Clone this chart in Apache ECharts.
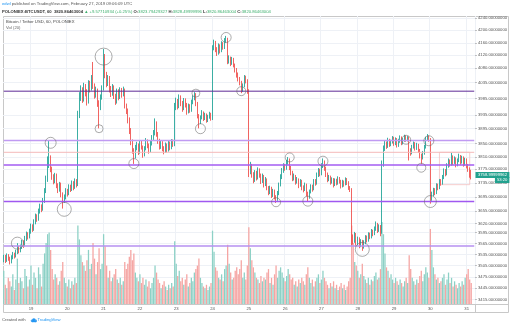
<!DOCTYPE html>
<html>
<head>
<meta charset="utf-8">
<script src="https://cdn.jsdelivr.net/npm/echarts@6/dist/echarts.min.js"></script>
<style>
html, body { margin: 0; padding: 0; background: #ffffff; }
#chart { width: 512px; height: 327px; }
</style>
</head>
<body>
<div id="chart"></div>
<script>
// Hourly BTC/USDT candles (POLONIEX, 60 min), first bar = 18th 06:00
const dayLabels = ['19','20','21','22','23','24','25','26','27','28','29','30','31'];
const firstHour = 6;
const slotCount = 312;

const opens = [
3522,3528,3520,3531,3524,3515,3527,3535,3530,3541,
3552,3545,3556,3568,3561,3579,3590,3584,3598,3612,
3605,3624,3640,3633,3655,3668,3661,3684,3712,3745,
3790,3806,3775,3752,3740,3756,3728,3715,3731,3702,
3685,3694,3712,3705,3724,3718,3735,3722,3740,3731,
3935,3990,4012,3985,4021,4006,3978,4030,4018,4045,
4026,3998,4010,3972,3958,3990,4018,4115,4060,4032,
4048,4015,4002,4020,3995,3976,4008,3990,4012,3998,
4011,3962,3948,3921,3890,3856,3830,3812,3838,3846,
3825,3852,3840,3817,3835,3858,3844,3829,3850,3868,
3880,3912,3878,3858,3840,3852,3836,3828,3846,3831,
3850,3838,3856,3848,3960,3978,3962,3990,3972,3955,
3980,3968,3945,3962,3950,3975,3988,3998,3970,3932,
3915,3928,3942,3925,3936,3920,3930,3938,3926,4145,
4162,4140,4128,4150,4135,4158,4146,4168,4172,4100,
4112,4095,4108,4090,4075,4060,4048,4035,4012,4025,
4050,4041,4010,3770,3785,3760,3742,3765,3750,3772,
3758,3740,3755,3730,3745,3722,3708,3720,3700,3712,
3695,3688,3705,3730,3752,3770,3785,3778,3795,3802,
3780,3765,3748,3755,3738,3745,3728,3740,3722,3716,
3730,3705,3694,3710,3725,3718,3740,3735,3758,3770,
3762,3785,3796,3778,3760,3745,3752,3738,3745,3730,
3742,3735,3748,3740,3726,3738,3732,3745,3736,3722,
3716,3585,3572,3590,3566,3578,3560,3571,3556,3568,
3582,3575,3590,3584,3598,3592,3605,3618,3602,3612,
3598,3790,3835,3850,3842,3860,3848,3855,3866,3850,
3862,3845,3858,3868,3852,3860,3870,3862,3868,3830,
3822,3840,3850,3836,3846,3830,3815,3808,3822,3840,
3865,3870,3862,3690,3702,3715,3708,3728,3722,3740,
3735,3752,3770,3762,3785,3798,3790,3810,3795,3805,
3788,3800,3812,3796,3808,3790,3802,3785,3775,3768
];
const closes = [
3528,3520,3531,3524,3515,3527,3535,3530,3541,3552,
3545,3556,3568,3561,3579,3590,3584,3598,3612,3605,
3624,3640,3633,3655,3668,3661,3684,3712,3745,3790,
3806,3775,3752,3740,3756,3728,3715,3731,3702,3685,
3694,3712,3705,3724,3718,3735,3722,3740,3731,3935,
3990,4012,3985,4021,4006,3978,4030,4018,4045,4026,
3998,4010,3972,3958,3990,4018,4115,4060,4032,4048,
4015,4002,4020,3995,3976,4008,3990,4012,3998,4011,
3962,3948,3921,3890,3856,3830,3812,3838,3846,3825,
3852,3840,3817,3835,3858,3844,3829,3850,3868,3880,
3912,3878,3858,3840,3852,3836,3828,3846,3831,3850,
3838,3856,3848,3960,3978,3962,3990,3972,3955,3980,
3968,3945,3962,3950,3975,3988,3998,3970,3932,3915,
3928,3942,3925,3936,3920,3930,3938,3926,4145,4162,
4140,4128,4150,4135,4158,4146,4168,4172,4100,4112,
4095,4108,4090,4075,4060,4048,4035,4012,4025,4050,
4041,4010,3770,3785,3760,3742,3765,3750,3772,3758,
3740,3755,3730,3745,3722,3708,3720,3700,3712,3695,
3688,3705,3730,3752,3770,3785,3778,3795,3802,3780,
3765,3748,3755,3738,3745,3728,3740,3722,3716,3730,
3705,3694,3710,3725,3718,3740,3735,3758,3770,3762,
3785,3796,3778,3760,3745,3752,3738,3745,3730,3742,
3735,3748,3740,3726,3738,3732,3745,3736,3722,3716,
3585,3572,3590,3566,3578,3560,3571,3556,3568,3582,
3575,3590,3584,3598,3592,3605,3618,3602,3612,3598,
3790,3835,3850,3842,3860,3848,3855,3866,3850,3862,
3845,3858,3868,3852,3860,3870,3862,3868,3830,3822,
3840,3850,3836,3846,3830,3815,3808,3822,3840,3865,
3870,3862,3690,3702,3715,3708,3728,3722,3740,3735,
3752,3770,3762,3785,3798,3790,3810,3795,3805,3788,
3800,3812,3796,3808,3790,3802,3785,3775,3768,3759
];
const lows = [
3514,3512,3515,3518,3508,3511,3522,3524,3527,3536,
3538,3541,3550,3553,3557,3572,3576,3579,3592,3597,
3600,3618,3625,3628,3648,3652,3656,3678,3706,3738,
3778,3766,3744,3731,3734,3720,3706,3710,3694,3662,
3678,3688,3696,3700,3709,3712,3714,3718,3722,3726,
3926,3978,3972,3976,3992,3964,3970,4004,4010,4015,
3985,3988,3960,3895,3950,3982,4010,4048,4020,4024,
4004,3990,3994,3984,3966,3970,3980,3984,3988,3992,
3955,3938,3910,3878,3845,3820,3790,3806,3830,3816,
3820,3832,3808,3812,3830,3836,3820,3824,3844,3860,
3874,3870,3849,3832,3834,3827,3818,3822,3823,3826,
3830,3833,3840,3842,3950,3952,3956,3962,3945,3950,
3958,3936,3940,3942,3945,3968,3980,3962,3925,3895,
3908,3922,3917,3920,3912,3914,3924,3918,3920,4136,
4130,4118,4122,4126,4130,4138,4140,4160,4092,4094,
4086,4090,4082,4066,4050,4038,4026,4002,4006,4020,
4032,4000,3752,3760,3750,3734,3738,3742,3745,3750,
3732,3735,3722,3726,3714,3700,3703,3692,3695,3688,
3678,3684,3700,3725,3746,3764,3770,3773,3788,3772,
3757,3740,3742,3730,3733,3720,3724,3714,3708,3712,
3697,3682,3690,3705,3710,3714,3727,3730,3752,3754,
3757,3778,3770,3752,3737,3740,3730,3733,3722,3726,
3728,3730,3733,3719,3722,3724,3728,3729,3715,3709,
3560,3562,3567,3557,3560,3552,3555,3545,3551,3563,
3568,3570,3577,3579,3585,3588,3600,3594,3597,3585,
3592,3782,3828,3834,3837,3840,3842,3850,3843,3845,
3838,3840,3852,3845,3847,3855,3855,3856,3800,3814,
3818,3835,3829,3831,3822,3806,3790,3803,3817,3835,
3858,3855,3676,3684,3697,3700,3703,3714,3717,3727,
3730,3746,3754,3757,3779,3782,3785,3787,3790,3780,
3783,3795,3788,3791,3782,3785,3777,3767,3750,3745
];
const highs = [
3535,3534,3538,3536,3529,3533,3542,3540,3548,3566,
3558,3562,3575,3574,3586,3598,3596,3606,3620,3618,
3632,3648,3646,3662,3676,3674,3692,3720,3756,3812,
3858,3815,3782,3760,3764,3762,3734,3738,3736,3708,
3702,3720,3718,3731,3730,3742,3740,3748,3746,3948,
4005,4026,4020,4034,4030,4014,4042,4040,4058,4099,
4032,4022,4016,3980,3998,4026,4140,4124,4068,4058,
4055,4024,4030,4026,4000,4016,4014,4020,4018,4022,
4016,3970,3955,3928,3896,3862,3836,3846,3855,3850,
3860,3858,3844,3842,3866,3862,3850,3858,3875,3890,
3925,3916,3884,3864,3860,3857,3842,3853,3850,3858,
3856,3863,3862,3972,3988,3984,3998,3995,3978,3987,
3986,3972,3970,3968,3982,3995,4005,4002,3975,3938,
3934,3950,3946,3942,3940,3936,3945,3942,4152,4170,
4166,4146,4158,4155,4165,4162,4175,4182,4176,4120,
4116,4115,4112,4094,4080,4066,4052,4040,4032,4058,
4056,4045,4014,3796,3790,3766,3772,3770,3780,3777,
3762,3762,3758,3752,3748,3726,3727,3724,3718,3716,
3700,3712,3736,3760,3778,3792,3790,3802,3810,3806,
3784,3770,3762,3758,3752,3748,3746,3744,3728,3736,
3733,3710,3716,3731,3730,3746,3746,3765,3778,3776,
3792,3806,3800,3782,3765,3758,3756,3751,3749,3748,
3747,3754,3752,3744,3744,3742,3751,3749,3740,3726,
3720,3590,3597,3594,3584,3582,3577,3575,3574,3588,
3587,3596,3595,3605,3603,3612,3626,3622,3618,3616,
3800,3844,3858,3856,3867,3864,3861,3872,3870,3868,
3866,3864,3874,3871,3866,3876,3874,3872,3871,3836,
3846,3856,3854,3852,3849,3834,3820,3828,3846,3870,
3878,3874,3866,3710,3721,3720,3734,3733,3746,3746,
3758,3777,3775,3792,3806,3803,3822,3815,3812,3809,
3806,3820,3816,3814,3812,3808,3806,3790,3780,3773
];
const volumes = [
38,22,18,30,26,20,34,16,28,52,
24,30,26,18,40,32,20,28,44,22,
36,30,18,42,34,20,46,58,70,80,
82,62,40,28,34,30,22,26,38,48,
30,24,20,28,18,26,22,30,24,90,
74,56,48,44,38,50,62,40,46,70,
52,34,48,64,40,46,80,66,44,30,
38,26,30,34,40,28,24,30,22,26,
48,40,46,54,62,50,58,36,30,26,
34,24,30,22,28,20,26,18,24,30,
44,36,28,24,18,22,26,20,16,22,
18,24,20,72,46,32,38,26,30,22,
28,34,20,24,30,26,36,40,44,52,
30,24,20,18,22,16,20,24,84,60,
42,38,30,28,34,26,40,44,68,46,
36,28,30,38,42,34,40,50,30,36,
28,44,88,64,50,42,36,30,28,24,
32,26,30,28,36,40,24,30,22,34,
44,30,38,42,36,30,26,32,40,34,
28,30,22,26,20,28,24,30,26,22,
34,42,30,24,28,20,26,30,34,24,
28,38,30,26,22,18,24,20,26,18,
22,16,20,24,18,22,16,20,26,30,
90,70,48,44,38,30,34,46,32,28,
24,30,22,28,26,32,36,28,30,40,
94,80,58,42,38,30,34,28,24,30,
26,22,28,24,20,26,30,24,56,40,
30,26,22,28,24,32,38,26,34,42,
36,30,86,62,42,34,28,30,24,26,
30,34,22,28,36,24,30,20,26,22,
18,24,20,26,22,30,34,40,28,24
];

// Price scale labels
const priceTicks = [4240,4200,4160,4120,4080,4035,3985,3935,3895,3850,3810,3775,3735,3695,3655,3620,3595,3565,3535,3505,3475,3445,3415];

// Horizontal support / resistance levels drawn on the chart
const levelPrices = [4008, 3859, 3824, 3787, 3682, 3558];
const levelStyles = [
  { color: '#5e2a96', width: 1 },
  { color: '#c09af2', width: 1.5 },
  { color: '#f4b9b9', width: 1 },
  { color: '#a35cf2', width: 1.5 },
  { color: '#a058f0', width: 1.5 },
  { color: '#b690f0', width: 1.5 }
];

// Circled turning points: [bar index, price, diameter]
const circleMarks = [
  [9,3566,12],[31,3852,11],[40,3660,14],[66,4116,17],[63,3894,8],[86,3791,10],
  [127,4002,8],[130,3894,10],[147,4177,10],[157,4008,9],[180,3680,9],[189,3809,9],
  [201,3683,10],[211,3798,10],[237,3549,14],[266,3861,9],[281,3858,10],[276,3779,9],[282,3682,12]
];

// Outlined consolidation box: [start bar, end bar, low price, high price]
const boxZone = [288, 308, 3730, 3824];

const lastPriceText = '3758.99999962';
const countdownText = '53:20';

const FONT = 'Liberation Sans, Arial, sans-serif';
const FS = 4.2;
const UP = '#26a69a', DOWN = '#ef5350';
const UP_VOL = '#8dd1c6', DOWN_VOL = '#f5a5a3';

const categories = [];
for (let k = 0; k < slotCount; k++) {
  const t = firstHour + k;
  categories.push(t % 24 === 0 ? dayLabels[t / 24 - 1] : '');
}

const candleData = opens.map((o, i) => [o, closes[i], lows[i], highs[i]]);
const volumeData = volumes.map((v, i) => ({
  value: v,
  itemStyle: { color: closes[i] >= opens[i] ? UP_VOL : DOWN_VOL }
}));
const showDay = (idx, val) => val !== '';

// One flat line series per level, spanning the whole time range
const levelSeries = levelPrices.map((p, i) => ({
  name: 'level' + i,
  type: 'line',
  data: [[0, p], [slotCount - 1, p]],
  symbol: 'none',
  silent: true,
  z: 3,
  lineStyle: { color: levelStyles[i].color, width: levelStyles[i].width, type: 'solid' },
  itemStyle: { color: levelStyles[i].color }
}));

const priceTag = {
  yAxis: closes[closes.length - 1],
  lineStyle: { color: 'rgba(0,0,0,0)', width: 0 },
  label: {
    show: true,
    position: 'end',
    distance: 0.5,
    offset: [0, 3],
    formatter: '{a|' + lastPriceText + '}\n{b|' + countdownText + '}',
    rich: {
      a: { backgroundColor: '#22a18e', color: '#ffffff', fontSize: FS, fontFamily: FONT, padding: [1, 2.4, 1, 2.4], lineHeight: 5 },
      b: { backgroundColor: '#22a18e', color: '#ffffff', fontSize: FS, fontFamily: FONT, padding: [1, 2, 1, 2], lineHeight: 5, align: 'right' }
    }
  }
};

const chart = echarts.init(document.getElementById('chart'), null, { renderer: 'canvas' });

const plain = (text, left, top, color) => ({
  text, left, top, padding: 0,
  textStyle: { fontSize: FS, fontWeight: 'normal', color: color || '#555', fontFamily: FONT }
});

chart.setOption({
  animation: false,
  backgroundColor: '#ffffff',
  textStyle: { fontFamily: FONT },
  title: [
    {
      left: 2, top: 1.8, padding: 0,
      text: '{u|edwl}{t| published on TradingView.com, February 27, 2019 09:06:09 UTC}',
      textStyle: {
        fontSize: FS, fontWeight: 'normal', fontFamily: FONT,
        rich: {
          u: { color: '#2196f3', fontSize: FS, fontFamily: FONT, lineHeight: 5 },
          t: { color: '#555', fontSize: FS, fontFamily: FONT, lineHeight: 5 }
        }
      }
    },
    {
      left: 2, top: 9.6, padding: 0,
      text: '{k|POLONIEX:BTCUSDT, 60  3820.86463004} {g|\u25B2 +9.57710934 (+0.25%)} {k|O:}{g|3823.79429327} {k|H:}{g|3828.49999996} {k|L:}{g|3820.86463004} {k|C:}{g|3820.86463004}',
      textStyle: {
        fontSize: FS, fontWeight: 'normal', fontFamily: FONT,
        rich: {
          k: { color: '#333', fontSize: FS, fontWeight: 'bold', fontFamily: FONT, lineHeight: 5 },
          g: { color: '#3bae6c', fontSize: FS, fontFamily: FONT, lineHeight: 5 }
        }
      }
    },
    plain('Bitcoin / Tether USD, 60, POLONIEX', 6, 20, '#444'),
    plain('Vol (20)', 6, 26, '#666'),
    plain('Created with', 2, 318, '#555'),
    plain('TradingView', 37.5, 318, '#2196f3')
  ],
  grid: { left: 3, right: 37, top: 16, bottom: 23, containLabel: false },
  xAxis: {
    type: 'category',
    data: categories,
    boundaryGap: true,
    axisLine: { show: false },
    axisTick: { show: false },
    axisLabel: { interval: showDay, fontSize: FS, color: '#555', margin: 3, fontFamily: FONT },
    splitLine: { show: true, interval: showDay, lineStyle: { color: '#eef1f6', width: 1 } }
  },
  yAxis: [
    {
      type: 'log',
      logBase: 10,
      min: 3403,
      max: 4246.5,
      position: 'right',
      axisLine: { show: false },
      axisTick: { show: true, length: 2, customValues: priceTicks, lineStyle: { color: '#9a9a9a', width: 0.6 } },
      axisLabel: {
        customValues: priceTicks,
        fontSize: FS, color: '#555', margin: 3, fontFamily: FONT,
        formatter: v => Math.round(v).toFixed(8)
      },
      splitLine: { show: true, lineStyle: { color: '#eef1f6', width: 1 } }
    },
    { type: 'value', min: 0, max: 330, show: false }
  ],
  series: [
    {
      name: 'Vol',
      type: 'bar',
      xAxisIndex: 0,
      yAxisIndex: 1,
      data: volumeData,
      barCategoryGap: '15%',
      z: 1,
      silent: true
    },
    {
      name: 'BTCUSDT',
      type: 'candlestick',
      data: candleData,
      barWidth: 1.1,
      z: 2,
      silent: true,
      itemStyle: { color: UP, color0: DOWN, borderColor: UP, borderColor0: DOWN, borderWidth: 0.9 },
      markArea: {
        silent: true,
        itemStyle: { color: 'rgba(0,0,0,0)', borderColor: '#f4c0c0', borderWidth: 0.8 },
        data: [[{ xAxis: boxZone[0], yAxis: boxZone[3] }, { xAxis: boxZone[1], yAxis: boxZone[2] }]]
      },
      markLine: {
        silent: true,
        symbol: ['none', 'none'],
        z: 6,
        data: [priceTag]
      }
    },
    {
      name: 'Marks',
      type: 'scatter',
      data: circleMarks.map(c => [c[0], c[1]]),
      symbol: 'circle',
      symbolSize: (val, params) => circleMarks[params.dataIndex][2],
      itemStyle: { color: 'rgba(0,0,0,0)', borderColor: '#6a6a6a', borderWidth: 0.7 },
      z: 4,
      silent: true
    }
  ].concat(levelSeries),
  graphic: [
    { type: 'rect', silent: true, shape: { x: 3.5, y: 16.5, width: 505, height: 296 }, style: { fill: 'none', stroke: '#c8c8c8', lineWidth: 1 } },
    { type: 'line', silent: true, shape: { x1: 475.5, y1: 16.5, x2: 475.5, y2: 312.5 }, style: { stroke: '#c8c8c8', lineWidth: 1 } },
    { type: 'line', silent: true, shape: { x1: 3.5, y1: 304.5, x2: 508.5, y2: 304.5 }, style: { stroke: '#c8c8c8', lineWidth: 1 } },
    {
      type: 'group', x: 30.5, y: 318, silent: true,
      children: [
        { type: 'circle', shape: { cx: 1.6, cy: 2.8, r: 1.4 }, style: { fill: '#4ba3ef' } },
        { type: 'circle', shape: { cx: 3.4, cy: 2.0, r: 1.8 }, style: { fill: '#2196f3' } },
        { type: 'circle', shape: { cx: 5.2, cy: 2.9, r: 1.3 }, style: { fill: '#4ba3ef' } },
        { type: 'rect', shape: { x: 1.4, y: 2.8, width: 4, height: 1.4 }, style: { fill: '#2196f3' } }
      ]
    }
  ]
});
</script>
</body>
</html>
